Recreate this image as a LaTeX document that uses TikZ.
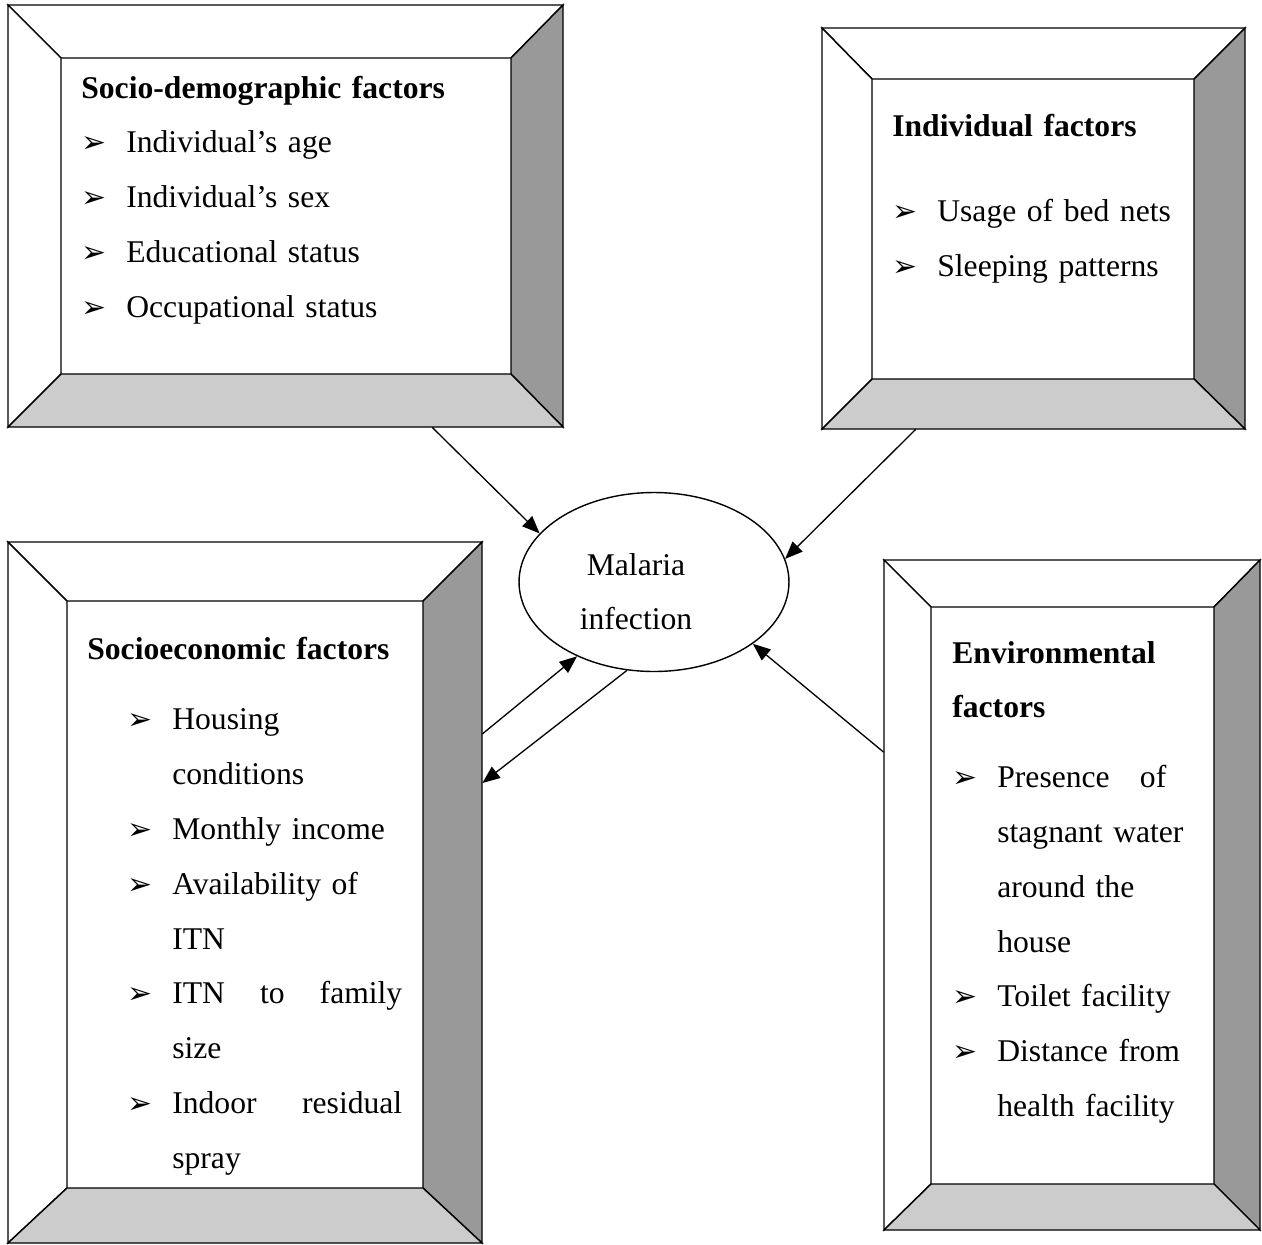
\documentclass[tikz,border=0pt]{standalone}
\usepackage{fontspec}
\setmainfont{Liberation Serif}
\newfontfamily\bulfont{DejaVu Sans}
\usepackage{tikz}
\usetikzlibrary{arrows.meta,calc,fit,shapes.geometric}
\definecolor{bevdark}{RGB}{153,153,153}
\definecolor{bevlight}{RGB}{204,204,204}
\newlength{\bulw}
\setlength{\bulw}{0.9cm}
\newcommand{\itm}[1]{\makebox[\bulw][l]{\bulfont\fontsize{17}{17}\selectfont ➢}#1}
\newcommand{\cont}[1]{\hspace*{\bulw}#1}
\tikzset{
  flow/.style={-{Triangle[length=10pt, width=8pt]}, line width=0.75pt, draw=black},
  bevel/.style={draw=black, line width=0.8pt},
  factortext/.style={anchor=base west, inner sep=0pt, align=left},
  hub/.style={ellipse, draw=black, line width=0.8pt, inner sep=0pt,
    minimum width=5.4cm, minimum height=3.58cm}
}
% name, outer corners, inner corners
\newcommand{\bevelbox}[9]{%
  \filldraw[bevel, fill=white] (#2,#3) -- (#4,#3) -- (#8,#7) -- (#6,#7) -- cycle;
  \filldraw[bevel, fill=white] (#2,#3) -- (#6,#7) -- (#6,#9) -- (#2,#5) -- cycle;
  \filldraw[bevel, fill=bevdark] (#4,#3) -- (#4,#5) -- (#8,#9) -- (#8,#7) -- cycle;
  \filldraw[bevel, fill=bevlight] (#2,#5) -- (#4,#5) -- (#8,#9) -- (#6,#9) -- cycle;
  \node[fit={(#2,#3) (#4,#5)}, inner sep=0pt] (#1) {};
}
\begin{document}
\begin{tikzpicture}[x=0.02cm, y=-0.02cm, every node/.style={font=\fontsize{18}{31.2}\selectfont}]
  \useasboundingbox (0,0) rectangle (1262,1245);

  \bevelbox{socdem}{8}{5}{563}{427}{61}{58}{511}{374}
  \bevelbox{indiv}{822}{28}{1245}{429}{872}{79}{1194}{379}
  \bevelbox{socecon}{8}{542}{482}{1243}{67}{601}{423}{1188}
  \bevelbox{envir}{884}{560}{1260}{1230}{931}{607}{1214}{1184}

  \node[factortext, text width=8.5cm] (socdemtext) at (81,98) {%
    \textbf{Socio-demographic factors}\\
    \itm{Individual’s age}\\
    \itm{Individual’s sex}\\
    \itm{Educational status}\\
    \itm{Occupational status}};

  \node[factortext, text width=6cm] (indivtext) at (892,136) {%
    \textbf{Individual factors}\\[0.62cm]
    \itm{Usage of bed nets}\\
    \itm{Sleeping patterns}};

  \node[factortext, text width=6.8cm] (socecontext) at (87,659) {%
    \textbf{Socioeconomic factors}\\[0.32cm]
    \hspace*{0.8cm}\itm{Housing}\\
    \hspace*{0.8cm}\cont{conditions}\\
    \hspace*{0.8cm}\itm{Monthly income}\\
    \hspace*{0.8cm}\itm{Availability of}\\
    \hspace*{0.8cm}\cont{ITN}\\
    \hspace*{0.8cm}\itm{\makebox[4.6cm][s]{ITN\hfill to\hfill family}}\\
    \hspace*{0.8cm}\cont{size}\\
    \hspace*{0.8cm}\itm{\makebox[4.6cm][s]{Indoor\hfill residual}}\\
    \hspace*{0.8cm}\cont{spray}};

  \node[factortext, text width=5.3cm] (envirtext) at (952,663) {%
    \textbf{Environmental}\\
    \textbf{factors}\\[0.3cm]
    \itm{\makebox[3.38cm][s]{Presence\hfill of}}\\
    \cont{stagnant water}\\
    \cont{around the}\\
    \cont{house}\\
    \itm{Toilet facility}\\
    \itm{Distance from}\\
    \cont{health facility}};

  \node[hub] (malaria) at (654,582) {};
  \node[text width=4cm, align=center, anchor=base, inner sep=0pt] (malarialabel) at (636,575) {Malaria\\infection};

  \draw[flow] ($(socdem.south west)!0.764!(socdem.south east)$) -- (malaria.157);
  \draw[flow] ($(indiv.south west)!0.222!(indiv.south east)$) -- (malaria.10);
  \draw[flow] ($(socecon.north east)!0.274!(socecon.south east)$) -- (malaria.224);
  \draw[flow] (malaria.253) -- ($(socecon.north east)!0.344!(socecon.south east)$);
  \draw[flow] ($(envir.north west)!0.287!(envir.south west)$) -- (malaria.328);
\end{tikzpicture}
\end{document}
